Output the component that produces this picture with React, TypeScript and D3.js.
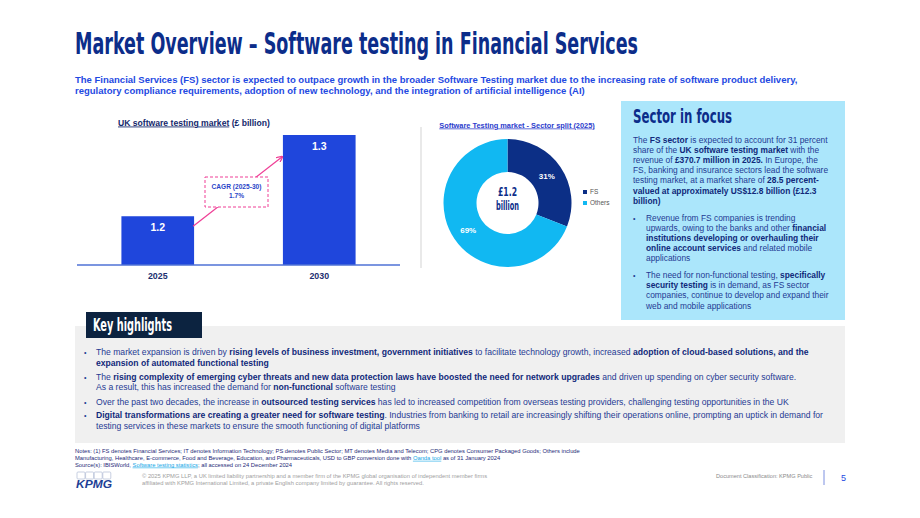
import React from 'react';
import * as d3 from 'd3';

// ---------- data ----------
const barYears = ['2025', '2030'];
const barValues = [1.2, 1.3];
const barTitle = ['UK software testing market', ' (£ billion)'];
const cagrLabel = ['CAGR (2025-30)', '1.7%'];

const sectorNames = ['FS', 'Others'];
const sectorShares = [31, 69];
const sectorCenter = ['£1.2', 'billion'];
const donutTitle = 'Software Testing market - Sector split (2025)';

const titleText = 'Market Overview – Software testing in Financial Services';
const subtitleLines = [
  'The Financial Services (FS) sector is expected to outpace growth in the broader Software Testing market due to the increasing rate of software product delivery,',
  'regulatory compliance requirements, adoption of new technology, and the integration of artificial intelligence (AI)',
];
const focusIntro = [
  'The **FS sector** is expected to account for 31 percent',
  'share of the **UK software testing market** with the',
  'revenue of **£370.7 million in 2025.** In Europe, the',
  'FS, banking and insurance sectors lead the software',
  'testing market, at a market share of **28.5 percent-**',
  '**valued at approximately US$12.8 billion (£12.3**',
  '**billion)**',
];
const focusBullets = [
  [
    'Revenue from FS companies is trending',
    'upwards, owing to the banks and other **financial**',
    '**institutions developing or overhauling their**',
    '**online account services** and related mobile',
    'applications',
  ],
  [
    'The need for non-functional testing, **specifically**',
    '**security testing** is in demand, as FS sector',
    'companies, continue to develop and expand their',
    'web and mobile applications',
  ],
];
const highlights = [
  [
    'The market expansion is driven by **rising levels of business investment, government initiatives** to facilitate technology growth, increased **adoption of cloud-based solutions, and the**',
    '**expansion of automated functional testing**',
  ],
  [
    'The **rising complexity of emerging cyber threats and new data protection laws have boosted the need for network upgrades** and driven up spending on cyber security software.',
    'As a result, this has increased the demand for **non-functional** software testing',
  ],
  [
    'Over the past two decades, the increase in **outsourced testing services** has led to increased competition from overseas testing providers, challenging testing opportunities in the UK',
  ],
  [
    '**Digital transformations are creating a greater need for software testing**. Industries from banking to retail are increasingly shifting their operations online, prompting an uptick in demand for',
    'testing services in these markets to ensure the smooth functioning of digital platforms',
  ],
];
const notesLines = [
  'Notes: (1) FS denotes Financial Services; IT denotes Information Technology; PS denotes Public Sector; MT denotes Media and Telecom; CPG denotes Consumer Packaged Goods; Others include',
  'Manufacturing, Healthcare, E-commerce, Food and Beverage, Education, and Pharmaceuticals, USD to GBP conversion done with [[Oanda tool]] as of 31 January 2024',
  'Source(s): IBISWorld, [[Software testing statistics]]; all accessed on 24 December 2024',
];
const copyrightLines = [
  '© 2025 KPMG LLP, a UK limited liability partnership and a member firm of the KPMG global organisation of independent member firms',
  'affiliated with KPMG International Limited, a private English company limited by guarantee. All rights reserved.',
];
const classification = 'Document Classification: KPMG Public';
const pageNumber = '5';

// ---------- style ----------
const SANS = '"Liberation Sans", Arial, Helvetica, sans-serif';
const COND = '"Liberation Sans Narrow", "DejaVu Sans Condensed", "Arial Narrow", sans-serif';
const NAVY = '#0c2d8a';
const TEXT = '#1f3a93';
const BOLD = '#10297a';
const BAR = '#1f46dc';
const PINK = '#ef3f96';
const FS_COL = '#0c2f86';
const OTH_COL = '#11b8f2';

type Seg = { t: string; b: boolean; link: boolean };
function parse(s: string): Seg[] {
  const out: Seg[] = [];
  const re = /(\*\*[^*]+\*\*|\[\[[^\]]+\]\])/g;
  let last = 0;
  let m: RegExpExecArray | null;
  while ((m = re.exec(s))) {
    if (m.index > last) out.push({ t: s.slice(last, m.index), b: false, link: false });
    const tok = m[0];
    if (tok.startsWith('**')) out.push({ t: tok.slice(2, -2), b: true, link: false });
    else out.push({ t: tok.slice(2, -2), b: false, link: true });
    last = m.index + tok.length;
  }
  if (last < s.length) out.push({ t: s.slice(last), b: false, link: false });
  return out;
}

function Rich(props: { x: number; y: number; text: string; size: number; color: string; bold?: string }) {
  const { x, y, text, size, color, bold } = props;
  return (
    <text x={x} y={y} fontSize={size} fill={color} fontFamily={SANS} style={{ whiteSpace: 'pre' }}>
      {parse(text).map((s, i) => (
        <tspan
          key={i}
          fontWeight={s.b ? 700 : 400}
          fill={s.link ? '#11a6e6' : s.b ? bold || color : color}
          textDecoration={s.link ? 'underline' : undefined}
        >
          {s.t}
        </tspan>
      ))}
    </text>
  );
}

export default function App() {
  // bar chart scales
  const x = d3.scaleBand<string>().domain(barYears).range([77, 400]).paddingInner(0.55).paddingOuter(0.275);
  const y = d3.scaleLinear().domain([1.14, 1.3]).range([265, 135]);
  const bw = x.bandwidth();
  const x0 = x(barYears[0])!;
  const x1 = x(barYears[1])!;

  // donut
  const cx = 507.5;
  const cy = 203;
  const pie = d3.pie<number>().sort(null).value((d) => d)(sectorShares);
  const arc = d3.arc<d3.PieArcDatum<number>>().innerRadius(31).outerRadius(64);
  const colors = d3.scaleOrdinal<string, string>().domain(sectorNames).range([FS_COL, OTH_COL]);

  // focus lines
  const focusStep = 10.2;
  let fy = 142.5;
  const focusRows: { t: string; y: number; bullet: boolean; indent: boolean }[] = [];
  focusIntro.forEach((t) => {
    focusRows.push({ t, y: fy, bullet: false, indent: false });
    fy += focusStep;
  });
  const bulletStarts = [220.5, 278];
  focusBullets.forEach((lines, bi) => {
    lines.forEach((t, li) => focusRows.push({ t, y: bulletStarts[bi] + li * focusStep, bullet: li === 0, indent: true }));
  });

  const hlStarts = [355.3, 379.7, 404.7, 418.3];

  return (
    <svg width={920} height={518} style={{ position: 'absolute', left: 0, top: 0, background: '#fff' }}>
      <defs>
        <marker id="arrow" viewBox="0 0 10 10" refX="8" refY="5" markerWidth="5" markerHeight="5" orient="auto">
          <path d="M0,0 L10,5 L0,10" fill="none" stroke={PINK} strokeWidth={2} />
        </marker>
      </defs>

      {/* title */}
      <text x={75} y={54} fontFamily={COND} fontWeight={700} fontSize={30} fill={NAVY} textLength={563} lengthAdjust="spacingAndGlyphs">
        {titleText}
      </text>
      {subtitleLines.map((t, i) => (
        <text key={i} x={75} y={83 + i * 11.3} fontFamily={SANS} fontWeight={700} fontSize={9.5} fill="#1e49e2">
          {t}
        </text>
      ))}

      {/* bar chart */}
      <text x={118} y={125.5} fontFamily={SANS} fontWeight={700} fontSize={8.6} fill="#14286b">
        <tspan textDecoration="underline">{barTitle[0]}</tspan>
        <tspan>{barTitle[1]}</tspan>
      </text>
      {barValues.map((v, i) => (
        <g key={i}>
          <rect x={x(barYears[i])} y={y(v)} width={bw} height={y.range()[0] - y(v)} fill={BAR} />
          <text x={x(barYears[i])! + bw / 2} y={y(v) + 15} textAnchor="middle" fontFamily={SANS} fontWeight={700} fontSize={10.5} fill="#fff">
            {v.toFixed(1)}
          </text>
          <text x={x(barYears[i])! + bw / 2} y={279} textAnchor="middle" fontFamily={SANS} fontWeight={700} fontSize={8.8} fill="#1c2f70">
            {barYears[i]}
          </text>
        </g>
      ))}
      <line x1={77} x2={400} y1={265} y2={265} stroke="#4f72d6" strokeWidth={1.5} />
      <line x1={x0 + bw - 1} y1={y(barValues[0]) + 10} x2={x1 - 1} y2={y(barValues[1]) + 22} stroke={PINK} strokeWidth={1.3} markerEnd="url(#arrow)" />
      <rect x={205} y={177} width={63} height={30} fill="#fff" stroke={PINK} strokeWidth={1} strokeDasharray="3,2" />
      {cagrLabel.map((t, i) => (
        <text key={i} x={236.5} y={188.5 + i * 9.5} textAnchor="middle" fontFamily={SANS} fontWeight={700} fontSize={6.6} fill="#2a45c8">
          {t}
        </text>
      ))}

      {/* separator */}
      <line x1={421} x2={421} y1={127} y2={268} stroke="#e2e2e2" strokeWidth={1.5} />

      {/* donut */}
      <text x={517} y={127.5} textAnchor="middle" fontFamily={SANS} fontWeight={700} fontSize={7.4} fill="#2c3ccc" textDecoration="underline">
        {donutTitle}
      </text>
      <g transform={`translate(${cx},${cy})`}>
        {pie.map((p, i) => (
          <path key={i} d={arc(p)!} fill={colors(sectorNames[i])} />
        ))}
        {pie.map((p, i) => {
          const [lx, ly] = arc.centroid(p);
          return (
            <text key={i} x={lx} y={ly + 3} textAnchor="middle" fontFamily={SANS} fontWeight={700} fontSize={8} fill="#fff">
              {sectorShares[i]}%
            </text>
          );
        })}
        <text x={0} y={-7.5} textAnchor="middle" fontFamily={COND} fontWeight={700} fontSize={12} fill={NAVY} textLength={19} lengthAdjust="spacingAndGlyphs">
          {sectorCenter[0]}
        </text>
        <text x={0} y={6.5} textAnchor="middle" fontFamily={COND} fontWeight={700} fontSize={12} fill={NAVY} textLength={23} lengthAdjust="spacingAndGlyphs">
          {sectorCenter[1]}
        </text>
      </g>
      {sectorNames.map((n, i) => (
        <g key={n}>
          <rect x={583} y={190 + i * 11} width={4} height={4} fill={colors(n)} />
          <text x={590} y={194.3 + i * 11} fontFamily={SANS} fontSize={6.5} fill="#555">
            {n}
          </text>
        </g>
      ))}

      {/* sector in focus */}
      <rect x={621} y={101} width={224} height={219} fill="#abe6fb" />
      <text x={633} y={123} fontFamily={COND} fontWeight={700} fontSize={19} fill={NAVY} textLength={99} lengthAdjust="spacingAndGlyphs">
        Sector in focus
      </text>
      {focusRows.map((r, i) => (
        <g key={i}>
          {r.bullet && (
            <text x={633} y={r.y} fontFamily={SANS} fontSize={7} fill={TEXT}>
              •
            </text>
          )}
          <Rich x={r.indent ? 646 : 633} y={r.y} text={r.t} size={8.4} color={TEXT} bold={BOLD} />
        </g>
      ))}

      {/* key highlights */}
      <rect x={75} y={326} width={770} height={117} fill="#f0f0f0" />
      <rect x={86} y={312} width={116} height={26} fill="#0c2340" />
      <text x={93} y={331} fontFamily={COND} fontWeight={700} fontSize={17} fill="#fff" textLength={79} lengthAdjust="spacingAndGlyphs">
        Key highlights
      </text>
      {highlights.map((lines, bi) => (
        <g key={bi}>
          <text x={84} y={hlStarts[bi]} fontFamily={SANS} fontSize={7} fill={TEXT}>
            •
          </text>
          {lines.map((t, li) => (
            <Rich key={li} x={96} y={hlStarts[bi] + li * 10.7} text={t} size={8.6} color={TEXT} bold={BOLD} />
          ))}
        </g>
      ))}

      {/* notes */}
      {notesLines.map((t, i) => (
        <Rich key={i} x={75} y={453 + i * 6.8} text={t} size={5.8} color="#1e2a78" />
      ))}

      {/* footer */}
      <g>
        {[0, 1, 2, 3].map((k) => (
          <rect key={k} x={77 + k * 8.6} y={472} width={8} height={7} rx={1} fill="none" stroke="#b9c3d9" strokeWidth={0.8} />
        ))}
        <text x={76} y={487.5} fontFamily={SANS} fontWeight={700} fontStyle="italic" fontSize={11} fill="#1e3f96" textLength={36} lengthAdjust="spacingAndGlyphs">
          KPMG
        </text>
      </g>
      {copyrightLines.map((t, i) => (
        <text key={i} x={142} y={478 + i * 7} fontFamily={SANS} fontSize={5.8} fill="#a0a0a0">
          {t}
        </text>
      ))}
      <text x={716} y={478} fontFamily={SANS} fontSize={5.6} fill="#8a8a8a">
        {classification}
      </text>
      <line x1={824} x2={824} y1={470} y2={485} stroke="#7d90e0" strokeWidth={1} />
      <text x={841} y={481} fontFamily={SANS} fontSize={9} fill="#1e49e2">
        {pageNumber}
      </text>
    </svg>
  );
}
